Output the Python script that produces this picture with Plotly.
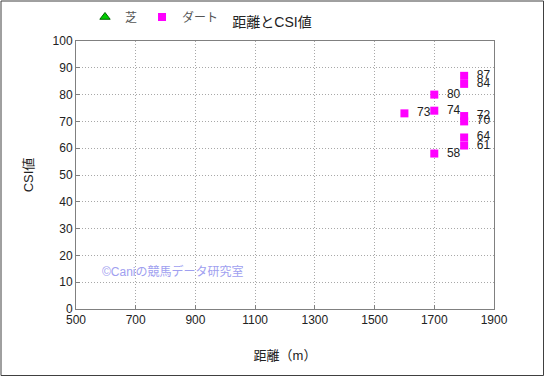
import plotly.graph_objects as go

# Data
turf_dist = []
turf_csi = []
dirt_dist = [1600, 1700, 1700, 1700, 1800, 1800, 1800, 1800, 1800, 1800]
dirt_csi = [73, 80, 74, 58, 87, 84, 72, 70, 64, 61]
x_ticks = [500, 700, 900, 1100, 1300, 1500, 1700, 1900]
y_ticks = [0, 10, 20, 30, 40, 50, 60, 70, 80, 90, 100]

W, H = 545, 377
ML, MR, MT, MB = 76, 51, 41, 68
PW, PH = W - ML - MR, H - MT - MB

FONT = "Liberation Sans, Arial, Noto Sans CJK JP, sans-serif"

fig = go.Figure()
fig.add_trace(go.Scatter(
    x=turf_dist if turf_dist else [None], y=turf_csi if turf_csi else [None],
    mode="markers", name="芝",
    marker=dict(symbol="triangle-up", color="#00cc00", size=9,
                line=dict(color="#006600", width=1)),
))
fig.add_trace(go.Scatter(
    x=dirt_dist, y=dirt_csi, mode="markers+text", name="ダート",
    marker=dict(symbol="square", color="#ff00ff", size=8, line=dict(width=0)),
    text=["  " + str(v) for v in dirt_csi], textposition="middle right",
    textfont=dict(size=12, color="#222222", family=FONT),
))

axis_common = dict(
    showline=True, mirror=True, linecolor="#808080", linewidth=1,
    ticks="inside", ticklen=4, tickcolor="#808080",
    showgrid=True, gridcolor="#a8a8a8", griddash="1px,2px", gridwidth=1,
    zeroline=False, tickfont=dict(size=12, color="#222222", family=FONT),
)

fig.update_layout(
    width=W, height=H,
    margin=dict(l=ML, r=MR, t=MT, b=MB, autoexpand=False),
    paper_bgcolor="white", plot_bgcolor="white",
    font=dict(family=FONT, color="#222222"),
    title=dict(text="距離とCSI値", x=(272 - ML) / PW, xref="paper", xanchor="center",
               y=1 - 22 / H, yanchor="middle", font=dict(size=14, color="#222222")),
    xaxis=dict(range=[500, 1900], tickvals=x_ticks,
               title=dict(text="距離（m）", font=dict(size=13), standoff=24),
               **axis_common),
    yaxis=dict(range=[0, 100], tickvals=y_ticks,
               title=dict(text="CSI値", font=dict(size=13), standoff=16),
               **axis_common),
    legend=dict(orientation="h", x=(85 - ML) / PW, xanchor="left",
                y=1 + (MT - 17) / PH, yanchor="middle",
                font=dict(size=12, color="#555555"), itemwidth=30,
                bgcolor="rgba(0,0,0,0)", tracegroupgap=0),
    showlegend=True,
)

fig.add_annotation(
    text="©Caniの競馬データ研究室", xref="paper", yref="paper",
    x=(100 - ML) / PW, y=(MT + PH - 271) / PH, xanchor="left", yanchor="middle",
    showarrow=False, font=dict(size=12, color="#a0a0f0", family=FONT),
)

# outer border of the figure
fig.add_shape(type="rect", xref="paper", yref="paper",
              x0=(1 - ML) / PW, x1=(W - 1.5 - ML) / PW,
              y0=(MT + PH - (H - 1.5)) / PH, y1=(MT + PH - 1) / PH,
              line=dict(color="#404040", width=1), fillcolor="rgba(0,0,0,0)",
              layer="below")

fig.write_html("out.html", config={"displayModeBar": False},
               post_script="document.body.style.margin='0';document.body.style.overflow='hidden';")
